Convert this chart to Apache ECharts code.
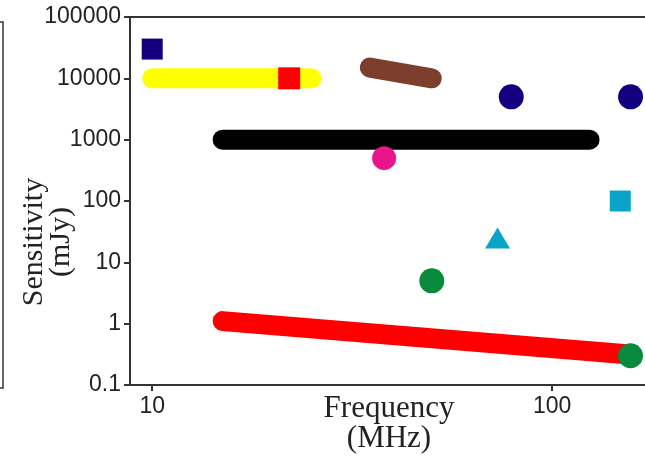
<!DOCTYPE html>
<html><head><meta charset="utf-8">
<script src="https://cdn.jsdelivr.net/npm/echarts@6/dist/echarts.min.js"></script>
<style>html,body{margin:0;padding:0;background:#fff}#c{width:645px;height:456px}</style>
</head><body><div id="c"></div>
<script>
const xTicks = [10, 100];
const yTicks = [0.1, 1, 10, 100, 1000, 10000, 100000];
const yellowBand = [[10, 10000], [25, 10000]];
const blackBand = [[15, 1000], [124, 1000]];
const brownBand = [[35, 15000], [50, 10000]];
const redBand = [[15, 1.1], [151, 0.32]];
const navySquare = [[10, 30000]];
const redSquare = [[22, 10000]];
const navyCircles = [[79, 5000], [157, 5000]];
const magentaCircle = [[38, 500]];
const cyanSquare = [[148, 100]];
const cyanTriangle = [[73, 25]];
const greenCircles = [[50, 5], [157, 0.3]];

const chart = echarts.init(document.getElementById('c'), null, {renderer: 'canvas'});
const axisColor = '#333';
const fmt = v => String(Number(Number(v).toPrecision(6)));
function band(data, color) {
  return {type: 'line', data: data, symbol: 'none', silent: true,
    lineStyle: {color: color, width: 20, cap: 'round'}, z: 2};
}
function pts(data, color, symbol, size) {
  return {type: 'scatter', data: data, symbol: symbol, symbolSize: size,
    itemStyle: {color: color, opacity: 1}, z: 3};
}
chart.setOption({
  animation: false,
  grid: {left: 130, top: 17, bottom: 71, right: -27.6, outerBoundsMode: 'none', containLabel: false,
    show: true, borderColor: axisColor, borderWidth: 2, backgroundColor: 'transparent'},
  xAxis: {type: 'log', logBase: 10, min: 8.8, max: 200,
    axisLine: {lineStyle: {color: axisColor, width: 2}},
    axisTick: {show: true, length: 6, customValues: xTicks, lineStyle: {color: axisColor, width: 2}},
    axisLabel: {customValues: xTicks, formatter: fmt, margin: 10,
      fontFamily: 'Liberation Sans', fontSize: 23, color: '#222'},
    minorTick: {show: false}, splitLine: {show: false}},
  yAxis: {type: 'log', logBase: 10, min: 0.1, max: 100000,
    axisLine: {show: true, lineStyle: {color: axisColor, width: 2}},
    axisTick: {show: true, length: 6, customValues: yTicks, lineStyle: {color: axisColor, width: 2}},
    axisLabel: {customValues: yTicks, formatter: fmt, margin: 9,
      fontFamily: 'Liberation Sans', fontSize: 23, color: '#222'},
    splitLine: {show: false}},
  graphic: [
    {type: 'text', x: 389, y: 394,
      style: {text: 'Frequency\n(MHz)', font: '31px "Liberation Serif"', fill: '#222',
        align: 'center', verticalAlign: 'top', lineHeight: 30}},
    {type: 'text', x: 48, y: 242, rotation: Math.PI / 2,
      style: {text: 'Sensitivity\n(mJy)', font: '30px "Liberation Serif"', fill: '#222',
        align: 'center', verticalAlign: 'middle', lineHeight: 27}},
    {type: 'polyline', shape: {points: [[0, 22], [3, 22], [3, 388], [0, 388]]},
      style: {stroke: axisColor, lineWidth: 1.5, fill: null}}
  ],
  series: [
    band(yellowBand, '#ffff00'),
    band(blackBand, '#000000'),
    band(brownBand, '#7d3f2d'),
    band(redBand, '#ff0000'),
    pts(navySquare, '#12007f', 'rect', 21),
    pts(redSquare, '#ff0000', 'rect', 22),
    pts(navyCircles, '#12007f', 'circle', 25),
    pts(magentaCircle, '#e8168a', 'circle', 24),
    pts(cyanSquare, '#0aa4c8', 'rect', 21),
    pts(cyanTriangle, '#0aa4c8', 'triangle', [25, 21]),
    pts(greenCircles, '#078a3b', 'circle', 25)
  ]
});
</script></body></html>
